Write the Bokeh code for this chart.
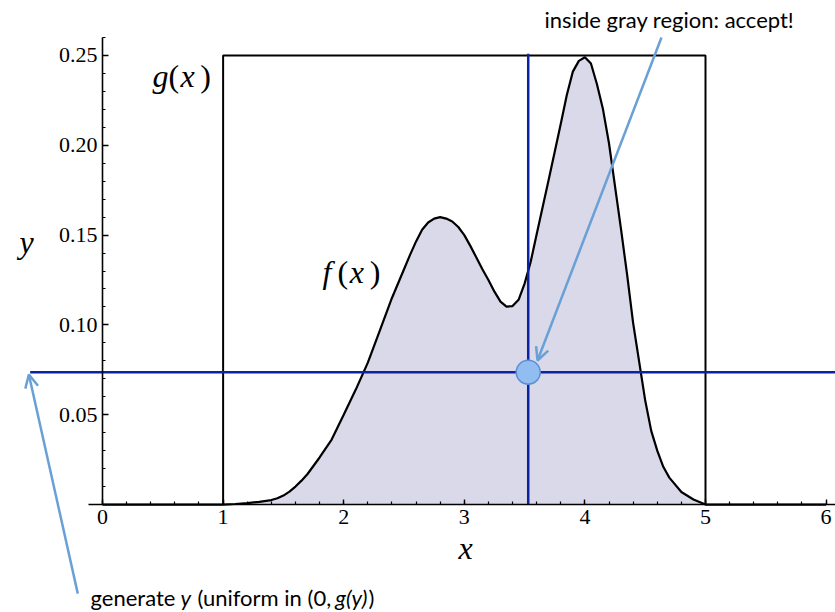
from bokeh.plotting import figure
from bokeh.models import (Range1d, FixedTicker, NumeralTickFormatter, Arrow, OpenHead,
                          LinearAxis)
from bokeh.core.properties import value
from bokeh.embed import file_html
from bokeh.resources import INLINE

# ---- data ----
f_x = [0.0, 1.0, 1.1, 1.2, 1.3, 1.4, 1.45, 1.5, 1.55, 1.6, 1.65, 1.7, 1.8, 1.9, 2.0, 2.1,
       2.2, 2.3, 2.4, 2.5, 2.55, 2.6, 2.65, 2.7, 2.75, 2.8, 2.85, 2.9, 2.95, 3.0, 3.05,
       3.1, 3.15, 3.2, 3.25, 3.3, 3.35, 3.4, 3.45, 3.5, 3.55, 3.6, 3.7, 3.8, 3.85, 3.9,
       3.95, 4.0, 4.05, 4.1, 4.15, 4.2, 4.3, 4.35, 4.4, 4.5, 4.55, 4.6, 4.65, 4.7, 4.8,
       4.9, 5.0, 6.0]
f_y = [0.0, 0.0, 0.0003, 0.0008, 0.0015, 0.0025, 0.0035, 0.0050, 0.0072, 0.0100, 0.0133,
       0.0170, 0.0262, 0.0362, 0.0500, 0.0640, 0.0790, 0.0970, 0.1150, 0.1310, 0.1390,
       0.1465, 0.1530, 0.1570, 0.1592, 0.1600, 0.1592, 0.1576, 0.1545, 0.1500, 0.1440,
       0.1375, 0.1310, 0.1250, 0.1185, 0.1130, 0.1102, 0.1105, 0.1140, 0.1230, 0.1350,
       0.1505, 0.1810, 0.2120, 0.2280, 0.2410, 0.2470, 0.2490, 0.2455, 0.2340, 0.2200,
       0.2010, 0.1530, 0.1280, 0.1010, 0.0580, 0.0410, 0.0300, 0.0210, 0.0150, 0.0070,
       0.0028, 0.0, 0.0]
g_x = [1.0, 1.0, 5.0, 5.0]
g_y = [0.0, 0.25, 0.25, 0.0]
sample_x = [3.53]
sample_y = [0.0737]
x_ticks = [0, 1, 2, 3, 4, 5, 6]
x_minor = [round(0.2 * i, 1) for i in range(0, 31)]
y_ticks = [0.05, 0.10, 0.15, 0.20, 0.25]
y_minor = [round(0.01 * i, 2) for i in range(0, 27)]

p = figure(width=835, height=612, output_backend="svg", toolbar_location=None,
           x_range=Range1d(-0.846, 6.078), y_range=Range1d(-0.0601, 0.2806),
           min_border=0, x_axis_type=None, y_axis_type=None)
p.outline_line_color = None
p.grid.visible = False
p.background_fill_color = "white"
p.border_fill_color = "white"

serif = value("Liberation Serif")

# axes through the origin
xax = LinearAxis(fixed_location=0, bounds=(-0.12, 6.1),
                 ticker=FixedTicker(ticks=x_ticks, minor_ticks=x_minor))
xax.axis_line_width = 1.6
xax.major_tick_in = 5
xax.major_tick_out = 0
xax.minor_tick_in = 3
xax.minor_tick_out = 0
xax.major_tick_line_width = 1.4
xax.minor_tick_line_width = 1.2
xax.major_label_text_font = "Liberation Serif"
xax.major_label_text_font_size = "22px"
xax.major_label_text_color = "black"
xax.major_label_standoff = 5
p.add_layout(xax, "below")

yax = LinearAxis(fixed_location=0, bounds=(0, 0.26),
                 ticker=FixedTicker(ticks=y_ticks, minor_ticks=y_minor),
                 formatter=NumeralTickFormatter(format="0.00"))
yax.axis_line_width = 1.6
yax.major_tick_in = 6
yax.major_tick_out = 0
yax.minor_tick_in = 3
yax.minor_tick_out = 0
yax.major_tick_line_width = 1.4
yax.minor_tick_line_width = 1.2
yax.major_label_text_font = "Liberation Serif"
yax.major_label_text_font_size = "22px"
yax.major_label_text_color = "black"
yax.major_label_standoff = 5
p.add_layout(yax, "left")

# f(x) filled region and curve
p.varea(x=f_x, y1=0, y2=f_y, fill_color="#d9d9ea")
p.line(g_x, g_y, line_color="black", line_width=2)
p.line(f_x, f_y, line_color="black", line_width=2.2)

# sampled point lines
blue = "#0b22a4"
p.segment(x0=sample_x, y0=[0], x1=sample_x, y1=[0.251], line_color=blue, line_width=2.5)
p.segment(x0=[-0.6], y0=sample_y, x1=[6.2], y1=sample_y, line_color=blue, line_width=2.5)
p.scatter(sample_x, sample_y, size=24, fill_color="#92bdf0", line_color="#5d8fd8",
          line_width=1.5)

# arrows
acol = "#6aa0d6"
p.add_layout(Arrow(end=OpenHead(size=13, line_color=acol, line_width=2.5),
                   x_start=4.635, y_start=0.2600, x_end=3.607, y_end=0.0802,
                   line_color=acol, line_width=2.5))
p.add_layout(Arrow(end=OpenHead(size=13, line_color=acol, line_width=2.5),
                   x_start=-0.205, y_start=-0.0496, x_end=-0.611, y_end=0.0724,
                   line_color=acol, line_width=2.5))

# math labels g(x), f(x), axis labels
gy, fy = 0.2385, 0.1292
p.text(x=[0.415, 0.647], y=[gy, gy], text=["g", "x"], text_font=serif,
       text_font_style="italic", text_font_size="32px", text_baseline="alphabetic",
       text_color="black")
p.text(x=[0.547, 0.810], y=[gy, gy], text=["(", ")"], text_font=serif,
       text_font_size="32px", text_baseline="alphabetic", text_color="black")
p.text(x=[1.824, 2.050], y=[fy, fy], text=["f", "x"], text_font=serif,
       text_font_style="italic", text_font_size="32px", text_baseline="alphabetic",
       text_color="black")
p.text(x=[1.949, 2.215], y=[fy, fy], text=["(", ")"], text_font=serif,
       text_font_size="32px", text_baseline="alphabetic", text_color="black")
p.text(x=[3.01], y=[-0.0240], text=["x"], text_font=serif, text_font_style="italic",
       text_font_size="32px", text_baseline="alphabetic", text_align="center",
       text_color="black")
p.text(x=[-0.630], y=[0.1462], text=["y"], text_font=serif, text_font_style="italic",
       text_font_size="32px", text_baseline="alphabetic", text_align="center",
       text_color="black")

# annotation texts
sans = value("Lato")
p.text(x=[4.701], y=[0.2701], text=["inside gray region: accept!"], text_font=sans,
       text_font_size="22px", text_baseline="alphabetic", text_align="center",
       text_color="black")
by = -0.0520
p.text(x=[-0.0995, 0.788, 2.205], y=[by] * 3,
       text=["generate", "(uniform in (0,", ")"], text_font=sans,
       text_font_size="22px", text_baseline="alphabetic", text_color="black")
p.text(x=[0.647, 1.930], y=[by] * 2, text=["y", "g(y)"], text_font=sans,
       text_font_style="italic", text_font_size="22px", text_baseline="alphabetic",
       text_color="black")

open("out.html", "w").write(file_html(p, INLINE))
